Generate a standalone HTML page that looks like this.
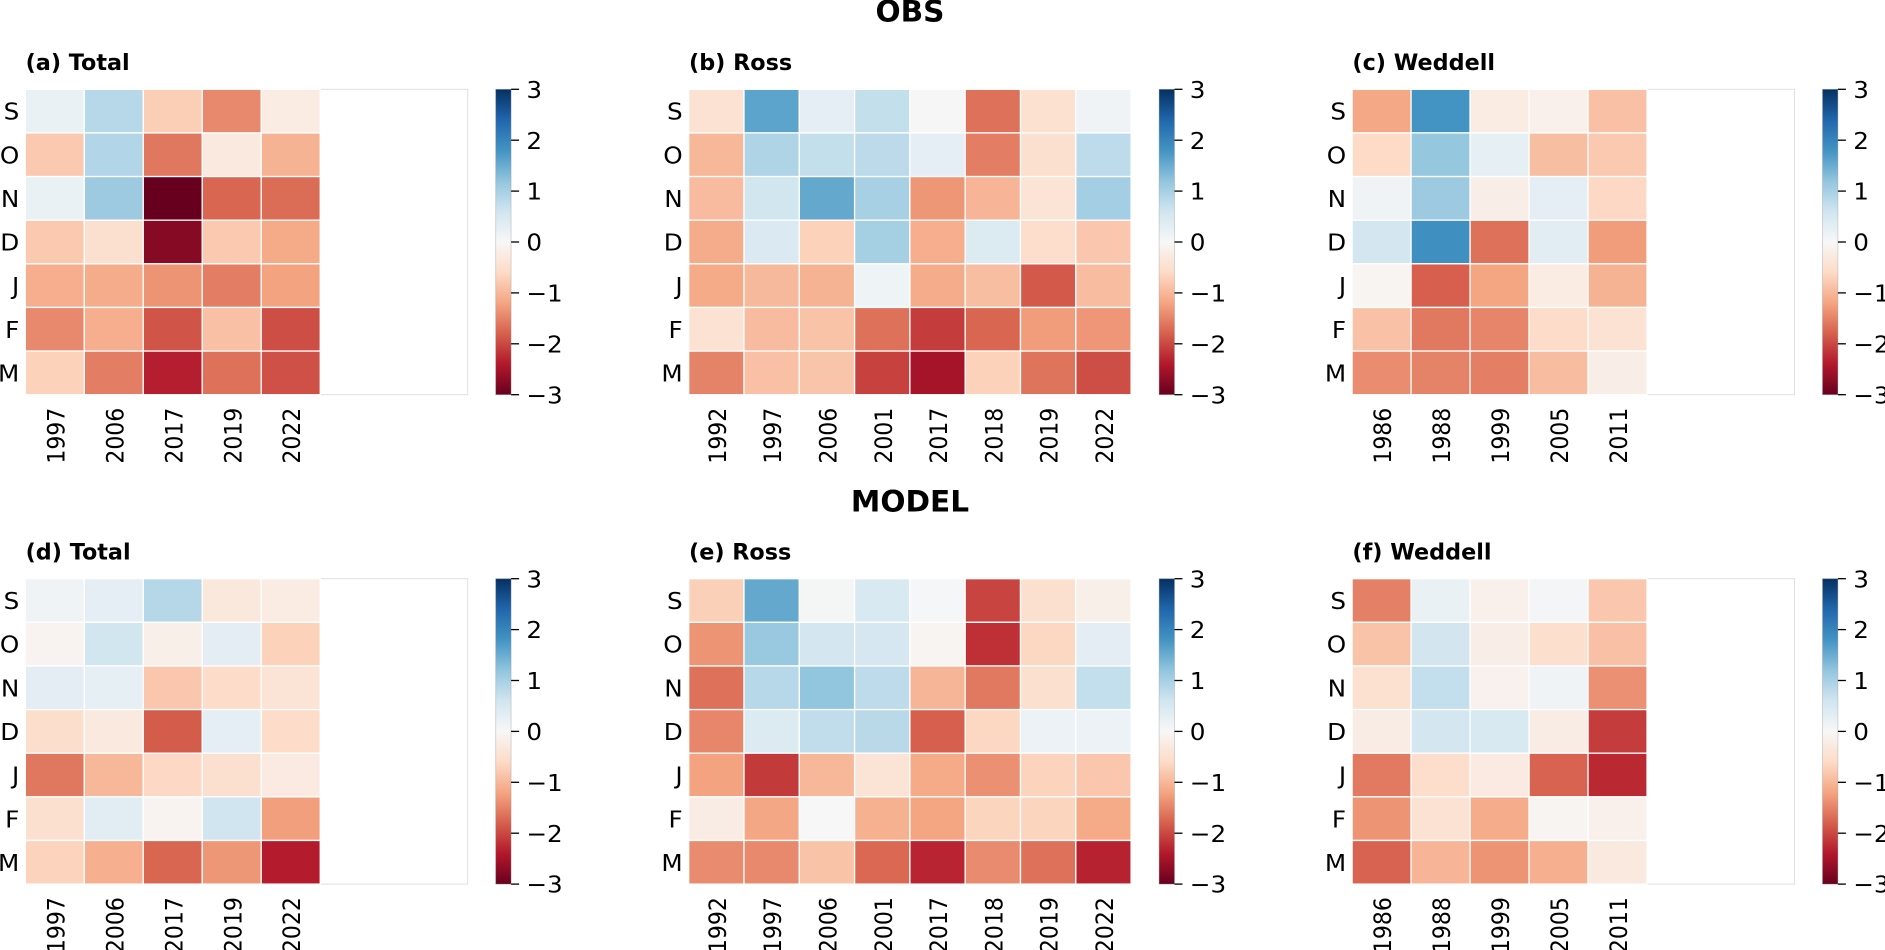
<!DOCTYPE html>
<html lang="en">
<head>
<meta charset="utf-8">
<title>OBS and MODEL monthly anomaly heatmaps</title>
<style>
  html, body { margin: 0; padding: 0; background: #ffffff; }
  body { width: 1885px; height: 950px; overflow: hidden; }
  svg { display: block; }
  text { font-family: "DejaVu Sans", "Liberation Sans", sans-serif; fill: #000; }
</style>
</head>
<body>
<svg id="figure" xmlns="http://www.w3.org/2000/svg" width="1885" height="950" viewBox="0 0 1885 950">
  <defs>
    <linearGradient id="cbar-gradient" x1="0" y1="1" x2="0" y2="0"></linearGradient>
  </defs>
  <rect width="1885" height="950" fill="#ffffff"></rect>
  <text transform="translate(910 21.7) scale(1.02 1)" text-anchor="middle" font-size="29" font-weight="700">OBS</text>
  <text transform="translate(910 511.3) scale(1.02 1)" text-anchor="middle" font-size="29" font-weight="700">MODEL</text>
</svg>
<script>
const months = ['S', 'O', 'N', 'D', 'J', 'F', 'M'];
const yearsTotal = ['1997', '2006', '2017', '2019', '2022'];
const yearsRoss = ['1992', '1997', '2006', '2001', '2017', '2018', '2019', '2022'];
const yearsWeddell = ['1986', '1988', '1999', '2005', '2011'];
const colorbarTicks = [3, 2, 1, 0, -1, -2, -3];
const cmapColors = ['#67001f','#b2182b','#d6604d','#f4a582','#fddbc7','#f7f7f7','#d1e5f0','#92c5de','#4393c3','#2166ac','#053061'];

const valuesA = [
  [0.20, 0.85, -0.75, -1.45, -0.25],
  [-0.80, 0.90, -1.60, -0.30, -1.05],
  [0.20, 1.10, -3.00, -1.75, -1.70],
  [-0.80, -0.50, -2.75, -0.80, -1.15],
  [-1.10, -1.12, -1.35, -1.55, -1.22],
  [-1.45, -1.10, -1.90, -0.90, -1.95],
  [-0.70, -1.55, -2.35, -1.65, -1.93]
];
const valuesB = [
  [-0.45, 1.60, 0.30, 0.72, 0.02, -1.65, -0.47, 0.12],
  [-1.00, 0.92, 0.72, 0.80, 0.30, -1.55, -0.50, 0.78],
  [-0.95, 0.58, 1.55, 1.00, -1.32, -1.03, -0.43, 1.03],
  [-1.12, 0.45, -0.70, 1.02, -1.10, 0.42, -0.55, -0.83],
  [-1.15, -0.98, -1.05, 0.15, -1.12, -0.92, -1.85, -0.93],
  [-0.45, -0.95, -0.87, -1.65, -2.10, -1.75, -1.27, -1.33],
  [-1.50, -0.90, -0.85, -2.05, -2.50, -0.70, -1.63, -1.95]
];
const valuesC = [
  [-1.17, 1.80, -0.25, -0.15, -0.90],
  [-0.60, 1.17, 0.27, -0.92, -0.80],
  [0.13, 1.10, -0.20, 0.30, -0.63],
  [0.55, 1.85, -1.65, 0.35, -1.27],
  [-0.07, -1.80, -1.20, -0.25, -1.05],
  [-0.88, -1.58, -1.48, -0.57, -0.45],
  [-1.42, -1.50, -1.53, -0.93, -0.20]
];
const valuesD = [
  [0.13, 0.30, 0.87, -0.33, -0.25],
  [-0.08, 0.58, -0.18, 0.32, -0.70],
  [0.32, 0.28, -0.83, -0.58, -0.42],
  [-0.53, -0.30, -1.83, 0.30, -0.58],
  [-1.60, -1.00, -0.62, -0.50, -0.28],
  [-0.50, 0.33, -0.08, 0.60, -1.25],
  [-0.68, -1.08, -1.75, -1.32, -2.37]
];
const valuesE = [
  [-0.72, 1.55, 0.05, 0.47, 0.03, -2.03, -0.50, -0.17],
  [-1.35, 1.13, 0.55, 0.52, -0.07, -2.20, -0.65, 0.32],
  [-1.65, 0.85, 1.20, 0.78, -1.02, -1.58, -0.50, 0.73],
  [-1.47, 0.42, 0.75, 0.83, -1.80, -0.65, 0.17, 0.17],
  [-1.22, -2.12, -1.00, -0.43, -1.15, -1.38, -0.68, -0.83],
  [-0.23, -1.18, 0.00, -1.07, -1.20, -0.67, -0.67, -1.15],
  [-1.43, -1.45, -0.87, -1.73, -2.30, -1.43, -1.65, -2.32]
];
const valuesF = [
  [-1.52, 0.20, -0.15, 0.07, -0.82],
  [-0.87, 0.57, -0.20, -0.52, -0.90],
  [-0.47, 0.73, -0.13, 0.13, -1.38],
  [-0.23, 0.55, 0.48, -0.23, -2.10],
  [-1.57, -0.55, -0.28, -1.77, -2.27],
  [-1.35, -0.45, -1.12, -0.07, -0.15],
  [-1.77, -1.03, -1.35, -1.08, -0.30]
];

const panels = [
  { key: 'a', title: '(a) Total', years: yearsTotal, values: valuesA, gridCol: 0, gridRow: 0 },
  { key: 'b', title: '(b) Ross', years: yearsRoss, values: valuesB, gridCol: 1, gridRow: 0 },
  { key: 'c', title: '(c) Weddell', years: yearsWeddell, values: valuesC, gridCol: 2, gridRow: 0 },
  { key: 'd', title: '(d) Total', years: yearsTotal, values: valuesD, gridCol: 0, gridRow: 1 },
  { key: 'e', title: '(e) Ross', years: yearsRoss, values: valuesE, gridCol: 1, gridRow: 1 },
  { key: 'f', title: '(f) Weddell', years: yearsWeddell, values: valuesF, gridCol: 2, gridRow: 1 }
];

const SVG_NS = 'http://www.w3.org/2000/svg';
const svg = document.getElementById('figure');
const gradient = document.getElementById('cbar-gradient');

const panelW = 442.4;
const panelH = 305.4;
const originX = 25.3;
const originY = 89.3;
const stepX = 663.4;
const stepY = 489.4;
const cbarGap = 28;
const cbarW = 15.4;
const vmin = -3;
const vmax = 3;
const tickFont = 23.5;
const tickStretch = 1.05;
const yearFont = 22;
const yearStretch = 1.09;
const titleFont = 22.3;

function hexToRgb(hex) {
  return [1, 3, 5].map(function (i) { return parseInt(hex.slice(i, i + 2), 16); });
}

function colorScale(v) {
  const t = Math.max(0, Math.min(1, (v - vmin) / (vmax - vmin))) * (cmapColors.length - 1);
  const i = Math.min(Math.floor(t), cmapColors.length - 2);
  const f = t - i;
  const a = hexToRgb(cmapColors[i]);
  const b = hexToRgb(cmapColors[i + 1]);
  const c = a.map(function (x, k) { return Math.round(x + (b[k] - x) * f); });
  return 'rgb(' + c.join(',') + ')';
}

function make(tag, attrs, parent) {
  const el = document.createElementNS(SVG_NS, tag);
  Object.keys(attrs).forEach(function (k) { el.setAttribute(k, attrs[k]); });
  parent.appendChild(el);
  return el;
}

cmapColors.forEach(function (c, i) {
  make('stop', { offset: i / (cmapColors.length - 1), 'stop-color': c }, gradient);
});

panels.forEach(function (p) {
  const left = originX + p.gridCol * stepX;
  const top = originY + p.gridRow * stepY;
  const xLimit = p.years.length === 8 ? 8 : 7.5;
  const xAxis = function (i) { return left + i * panelW / xLimit; };
  const yAxis = function (j) { return top + j * panelH / months.length; };
  const cbarLeft = left + panelW + cbarGap;
  const cbarAxis = function (v) { return top + (vmax - v) / (vmax - vmin) * panelH; };

  const group = make('g', {}, svg);
  
  

  const title = make('text', {
    transform: 'translate(' + (left + 0.3) + ' ' + (top - 19.3) + ')',
    'font-size': titleFont,
    'font-weight': 700
  }, group);
  title.textContent = p.title;
  
  

  const frame = make('rect', {
    x: left, y: top, width: panelW, height: panelH,
    fill: '#ffffff', stroke: '#e0e0e0', 'stroke-width': 1
  }, group);
  
  

  p.values.forEach(function (row, j) {
    row.forEach(function (v, i) {
      const cell = make('rect', {
        x: xAxis(i),
        y: yAxis(j),
        width: xAxis(i + 1) - xAxis(i),
        height: yAxis(j + 1) - yAxis(j),
        fill: colorScale(v),
        stroke: '#ffffff',
        'stroke-width': 1.3
      }, group);
      
      
    });
  });

  months.forEach(function (m, j) {
    const label = make('text', {
      transform: 'translate(' + (left - 6) + ' ' + ((yAxis(j) + yAxis(j + 1)) / 2 + 8.6) + ') scale(' + tickStretch + ' 1)',
      'text-anchor': 'end',
      'font-size': tickFont
    }, group);
    label.textContent = m;
    
    
  });

  p.years.forEach(function (y, i) {
    const label = make('text', {
      transform: 'translate(' + ((xAxis(i) + xAxis(i + 1)) / 2 + 9.5) + ' ' + (top + panelH + 13) + ') rotate(-90) scale(1 ' + yearStretch + ')',
      'text-anchor': 'end',
      'font-size': yearFont
    }, group);
    label.textContent = y;
    
    
  });

  const bar = make('rect', {
    x: cbarLeft, y: top, width: cbarW, height: panelH,
    fill: 'url(#cbar-gradient)',
    stroke: 'rgba(150,150,150,0.45)',
    'stroke-width': 0.8
  }, group);
  
  

  colorbarTicks.forEach(function (v) {
    const tick = make('line', {
      x1: cbarLeft + cbarW, x2: cbarLeft + cbarW + 8,
      y1: cbarAxis(v), y2: cbarAxis(v),
      stroke: '#000000', 'stroke-width': 1.3
    }, group);
    
    

    const label = make('text', {
      transform: 'translate(' + (cbarLeft + cbarW + 15.3) + ' ' + (cbarAxis(v) + 8.6) + ') scale(' + tickStretch + ' 1)',
      'font-size': tickFont
    }, group);
    label.textContent = v < 0 ? '\u2212' + Math.abs(v) : String(v);
    
    
  });
});
</script>
</body>
</html>
